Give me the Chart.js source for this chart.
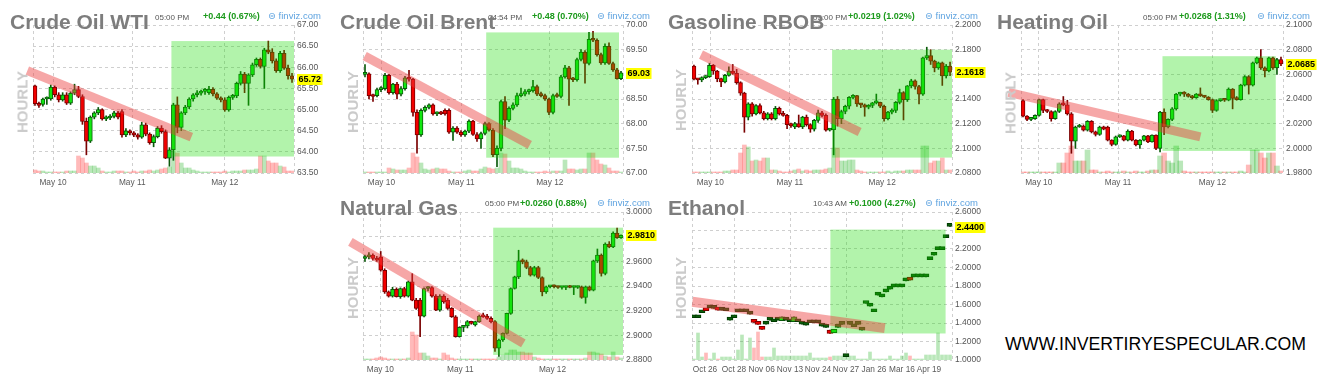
<!DOCTYPE html>
<html lang="en">
<head>
<meta charset="UTF-8">
<title>Energy futures - hourly</title>
<script src="https://cdn.jsdelivr.net/npm/chart.js"></script>
<style>
  body { margin: 0; background: #fff; }
  #wrap { position: relative; width: 1335px; height: 385px; overflow: hidden; font-family: 'Liberation Sans', Arial, sans-serif; }
  canvas { position: absolute; }
  .title { position: absolute; font-weight: bold; font-size: 21px; line-height: 21px; color: #7d7d7d; white-space: nowrap; }
  .time { position: absolute; font-size: 8px; line-height: 10px; color: #555; white-space: nowrap; }
  .chg { position: absolute; font-size: 9px; font-weight: bold; line-height: 10px; color: #1c9a1c; white-space: nowrap; }
  .fv { position: absolute; font-size: 9.5px; line-height: 10px; color: #5ea3e0; white-space: nowrap; font-family: 'Liberation Sans', 'DejaVu Sans', sans-serif; }
  .hourly { position: absolute; font-weight: bold; font-size: 15px; line-height: 15px; color: #cbcbcb; transform: translate(-50%, -50%) rotate(-90deg); white-space: nowrap; }
  #site { position: absolute; left: 1005px; top: 336px; font-size: 17.7px; line-height: 17.7px; color: #000; white-space: nowrap; }
</style>
</head>
<body>
<div id="wrap">
  <div class="time" style="left:155px;top:12.5px">05:00 PM</div>
  <div class="chg" style="left:203px;top:11px">+0.44 (0.67%)</div>
  <div class="fv" style="left:268px;top:11px">⊜ finviz.com</div>
  <div class="time" style="left:488px;top:12.5px">04:54 PM</div>
  <div class="chg" style="left:532px;top:11px">+0.48 (0.70%)</div>
  <div class="fv" style="left:597px;top:11px">⊜ finviz.com</div>
  <div class="time" style="left:813px;top:12.5px">05:00 PM</div>
  <div class="chg" style="left:848px;top:11px">+0.0219 (1.02%)</div>
  <div class="fv" style="left:925px;top:11px">⊜ finviz.com</div>
  <div class="time" style="left:1143px;top:12.5px">05:00 PM</div>
  <div class="chg" style="left:1179px;top:11px">+0.0268 (1.31%)</div>
  <div class="fv" style="left:1257px;top:11px">⊜ finviz.com</div>
  <div class="time" style="left:485px;top:199px">05:00 PM</div>
  <div class="chg" style="left:520px;top:198px">+0.0260 (0.88%)</div>
  <div class="fv" style="left:597px;top:198px">⊜ finviz.com</div>
  <div class="time" style="left:813px;top:199px">10:43 AM</div>
  <div class="chg" style="left:849px;top:198px">+0.1000 (4.27%)</div>
  <div class="fv" style="left:925px;top:198px">⊜ finviz.com</div>

  <div class="hourly" style="left:22px;top:102px">HOURLY</div>
  <div class="hourly" style="left:352px;top:102px">HOURLY</div>
  <div class="hourly" style="left:680px;top:100px">HOURLY</div>
  <div class="hourly" style="left:1010px;top:103px">HOURLY</div>
  <div class="hourly" style="left:352px;top:288px">HOURLY</div>
  <div class="hourly" style="left:680px;top:288px">HOURLY</div>

  <div id="site">WWW.INVERTIRYESPECULAR.COM</div>
</div>

<script>
// ---- data: [open, high, low, close] per bar, volume per bar ----
const mayDays = ['May 10', 'May 11', 'May 12'];

const wtiOHLC = [
  [65.56,65.58,65.10,65.14],[65.15,65.18,65.05,65.10],[65.12,65.27,65.08,65.25],[65.25,65.30,65.12,65.27],
  [65.25,65.58,65.22,65.53],[65.53,65.56,65.30,65.35],[65.35,65.40,65.18,65.23],[65.23,65.40,65.20,65.35],
  [65.35,65.40,65.12,65.15],[65.15,65.42,65.12,65.39],[65.39,65.60,65.35,65.47],[65.47,65.55,65.28,65.31],
  [65.31,65.35,64.65,64.72],[64.72,64.80,63.93,64.25],[64.25,64.85,64.22,64.82],[64.82,64.95,64.78,64.92],
  [64.92,65.05,64.88,65.00],[65.00,65.02,64.75,64.78],[64.78,64.85,64.74,64.80],[64.80,64.88,64.76,64.84],
  [64.84,64.96,64.80,64.92],[64.92,64.96,64.78,64.82],[64.95,65.00,64.35,64.40],[64.40,64.55,64.36,64.50],
  [64.50,64.52,64.40,64.45],[64.45,64.48,64.36,64.40],[64.40,64.43,64.30,64.35],[64.35,64.70,64.32,64.64],
  [64.64,64.68,64.38,64.42],[64.42,64.45,64.18,64.22],[64.22,64.40,64.12,64.36],[64.36,64.60,64.33,64.56],
  [64.56,64.62,64.44,64.48],[64.48,64.52,63.84,63.85],[63.85,64.10,63.66,64.05],[64.05,65.15,63.80,65.11],
  [65.11,65.30,64.45,64.58],[64.58,64.95,64.50,64.92],[64.92,65.10,64.88,65.06],[65.06,65.28,65.02,65.25],
  [65.25,65.38,65.20,65.35],[65.35,65.45,65.30,65.39],[65.39,65.46,65.34,65.43],[65.43,65.50,65.36,65.46],
  [65.40,65.55,65.36,65.48],[65.48,65.52,65.32,65.37],[65.37,65.40,65.24,65.27],[65.27,65.30,65.18,65.23],
  [65.23,65.28,64.96,64.99],[64.99,65.32,64.96,65.29],[65.29,65.36,65.24,65.32],[65.32,65.65,65.28,65.62],
  [65.62,65.90,65.58,65.84],[65.84,65.88,65.40,65.62],[65.62,65.85,65.10,65.82],[65.82,66.10,65.78,66.06],
  [66.06,66.22,66.02,66.19],[66.19,66.22,65.98,66.02],[66.02,66.45,65.50,66.41],[66.41,66.62,66.32,66.36],
  [66.36,66.44,66.10,66.15],[66.15,66.20,65.88,65.92],[65.92,66.38,65.88,66.33],[66.33,66.40,65.95,65.98],
  [65.98,66.05,65.72,65.80],[65.80,65.86,65.64,65.72]
];
const wtiVol = [3,2,2,1,1,1,1,1,2,2,2,17,15,10,7,7,5,2,1,1,2,2,2,1,1,2,1,2,2,3,2,3,4,5,6,22,20,10,5,5,3,2,1,1,1,1,1,1,2,1,2,2,2,3,3,3,4,17,17,12,10,10,7,6,2,2];
const wtiTicks = [63.5, 64.0, 64.5, 65.0, 65.5, 66.0, 66.5, 67.0];
const wtiDays = [4.56, 24.6, 48.0];
const wtiBox = [34.5, 65.5, 63.89, 66.62];
const wtiTrend = [[-1.93, 65.92], [39.55, 64.35]];
const wtiLast = 65.72;

const brentOHLC = [
  [69.00,69.20,68.95,69.01],[69.01,69.03,68.50,68.57],[68.57,68.60,68.45,68.55],[68.57,68.72,68.54,68.69],
  [68.69,68.75,68.65,68.71],[68.71,69.02,68.68,68.98],[68.98,69.00,68.60,68.63],[68.63,68.82,68.60,68.80],
  [68.80,68.84,68.50,68.60],[68.60,68.75,68.56,68.71],[68.71,68.96,68.68,68.93],[68.93,69.08,68.86,68.90],
  [68.90,68.92,68.15,68.23],[68.23,68.28,67.40,67.77],[67.77,68.30,67.74,68.27],[68.27,68.36,68.24,68.33],
  [68.33,68.40,68.30,68.38],[68.38,68.40,68.17,68.20],[68.20,68.24,68.16,68.21],[68.21,68.25,68.18,68.20],
  [68.27,68.30,68.17,68.20],[68.27,68.30,67.80,67.83],[67.83,67.94,67.66,67.91],[67.91,67.94,67.80,67.83],
  [67.83,67.86,67.74,67.77],[67.77,67.87,67.74,67.85],[67.85,68.08,67.82,68.05],[68.05,68.07,67.76,67.78],
  [67.78,67.82,67.64,67.69],[67.69,67.83,67.50,67.80],[67.80,68.03,67.77,68.00],[68.00,68.02,67.85,67.87],
  [67.87,67.90,67.33,67.37],[67.37,67.55,67.13,67.50],[67.50,68.48,67.45,68.45],[68.45,68.55,67.90,68.07],
  [68.07,68.34,68.04,68.31],[68.31,68.42,68.28,68.38],[68.38,68.62,68.35,68.57],[68.57,68.72,68.54,68.60],
  [68.60,68.69,68.56,68.65],[68.65,68.70,68.60,68.67],[68.67,68.88,68.64,68.75],[68.75,68.78,68.57,68.60],
  [68.60,68.64,68.54,68.57],[68.57,68.60,68.47,68.50],[68.50,68.52,68.18,68.23],[68.23,68.60,68.20,68.57],
  [68.57,68.62,68.53,68.55],[68.55,68.98,68.52,68.95],[68.95,69.18,68.92,69.13],[69.13,69.16,68.37,68.90],
  [68.90,68.94,68.85,68.89],[68.89,69.33,68.86,69.30],[69.30,69.50,69.27,69.45],[69.45,69.48,68.82,69.22],
  [69.22,69.85,69.19,69.71],[69.71,69.87,69.66,69.69],[69.69,69.72,69.37,69.40],[69.40,69.43,69.20,69.23],
  [69.23,69.62,69.20,69.57],[69.57,69.64,69.20,69.22],[69.22,69.25,69.06,69.09],[69.09,69.12,68.90,68.91],
  [68.91,69.06,68.89,69.03]
];
const brentVol = [1,1,1,1,1,1,5,4,3,3,3,5,20,16,10,4,3,4,5,4,4,2,1,1,1,2,3,2,2,4,6,5,4,5,20,19,12,5,5,4,2,1,1,1,1,2,1,2,2,2,13,4,4,3,4,4,20,20,13,9,8,5,2,2,1];
const brentTicks = [67.0, 67.5, 68.0, 68.5, 69.0, 69.5, 70.0];
const brentDays = [4.1, 24.1, 46.2];
const brentBox = [30.3, 63.5, 67.31, 69.85];
const brentTrend = [[-0.08, 69.37], [41.2, 67.57]];
const brentLast = 69.03;

const rbobOHLC = [
  [2.1667,2.1675,2.1555,2.1560],[2.1560,2.1565,2.1520,2.1555],[2.1555,2.1580,2.1540,2.1573],[2.1573,2.1590,2.1565,2.1581],
  [2.1581,2.1690,2.1575,2.1672],[2.1672,2.1680,2.1600,2.1627],[2.1627,2.1632,2.1540,2.1565],[2.1565,2.1570,2.1500,2.1539],
  [2.1539,2.1600,2.1530,2.1592],[2.1592,2.1660,2.1585,2.1627],[2.1627,2.1680,2.1600,2.1608],[2.1608,2.1640,2.1520,2.1533],
  [2.1533,2.1540,2.1430,2.1448],[2.1448,2.1455,2.1130,2.1253],[2.1253,2.1370,2.1230,2.1360],[2.1360,2.1370,2.1260,2.1280],
  [2.1280,2.1355,2.1270,2.1347],[2.1347,2.1360,2.1280,2.1288],[2.1288,2.1300,2.1230,2.1240],[2.1240,2.1290,2.1230,2.1280],
  [2.1280,2.1290,2.1230,2.1240],[2.1240,2.1340,2.1230,2.1325],[2.1325,2.1335,2.1270,2.1280],[2.1280,2.1300,2.1260,2.1267],
  [2.1267,2.1275,2.1160,2.1192],[2.1200,2.1205,2.1170,2.1181],[2.1173,2.1210,2.1160,2.1200],[2.1200,2.1270,2.1170,2.1173],
  [2.1173,2.1260,2.1160,2.1253],[2.1253,2.1270,2.1180,2.1192],[2.1192,2.1200,2.1130,2.1155],[2.1155,2.1235,2.1140,2.1227],
  [2.1227,2.1310,2.1210,2.1288],[2.1288,2.1300,2.1255,2.1267],[2.1267,2.1280,2.1140,2.1147],[2.1147,2.1160,2.1140,2.1152],
  [2.1152,2.1413,2.0947,2.1400],[2.1400,2.1420,2.1180,2.1240],[2.1240,2.1310,2.1200,2.1299],[2.1299,2.1350,2.1280,2.1341],
  [2.1341,2.1420,2.1320,2.1413],[2.1413,2.1435,2.1400,2.1427],[2.1427,2.1430,2.1340,2.1360],[2.1360,2.1365,2.1330,2.1352],
  [2.1352,2.1360,2.1260,2.1333],[2.1333,2.1355,2.1320,2.1347],[2.1347,2.1373,2.1330,2.1368],[2.1368,2.1440,2.1360,2.1373],
  [2.1373,2.1375,2.1330,2.1341],[2.1341,2.1350,2.1220,2.1240],[2.1240,2.1300,2.1230,2.1293],[2.1293,2.1320,2.1280,2.1307],
  [2.1307,2.1380,2.1290,2.1373],[2.1373,2.1480,2.1360,2.1453],[2.1453,2.1460,2.1230,2.1395],[2.1395,2.1510,2.1380,2.1507],
  [2.1507,2.1560,2.1490,2.1547],[2.1547,2.1555,2.1480,2.1501],[2.1501,2.1510,2.1360,2.1440],[2.1440,2.1740,2.1430,2.1733],
  [2.1733,2.1820,2.1720,2.1752],[2.1752,2.1800,2.1680,2.1707],[2.1707,2.1715,2.1620,2.1653],[2.1653,2.1700,2.1640,2.1693],
  [2.1693,2.1700,2.1510,2.1587],[2.1587,2.1680,2.1570,2.1667],[2.1667,2.1700,2.1590,2.1618]
];
const rbobVol = [1,1,1,1,1,1,1,1,2,2,3,3,20,28,26,12,13,12,15,15,3,3,2,1,1,2,3,4,2,3,2,3,3,3,4,5,25,25,12,12,13,13,3,2,1,1,1,1,1,1,2,1,2,2,2,3,3,3,3,27,27,10,12,12,15,3,3];
const rbobTicks = [2.08, 2.10, 2.12, 2.14, 2.16, 2.18, 2.20];
const rbobDays = [4.2, 24.7, 48.5];
const rbobBox = [35.6, 66.5, 2.0925, 2.18];
const rbobTrend = [[1.82, 2.176], [42.7, 2.1133]];
const rbobLast = 2.1618;

const hoOHLC = [
  [2.0387,2.0395,2.0255,2.0261],[2.0261,2.0265,2.0225,2.0235],[2.0235,2.0245,2.0225,2.0240],[2.0240,2.0272,2.0235,2.0267],
  [2.0267,2.0400,2.0260,2.0395],[2.0395,2.0400,2.0290,2.0307],[2.0307,2.0315,2.0290,2.0299],[2.0299,2.0305,2.0220,2.0240],
  [2.0240,2.0305,2.0235,2.0299],[2.0299,2.0370,2.0290,2.0360],[2.0360,2.0420,2.0345,2.0352],[2.0352,2.0390,2.0270,2.0280],
  [2.0280,2.0290,1.9960,2.0059],[2.0059,2.0180,2.0000,2.0173],[2.0173,2.0195,2.0170,2.0181],[2.0181,2.0190,2.0140,2.0147],
  [2.0147,2.0225,2.0140,2.0219],[2.0219,2.0225,2.0125,2.0133],[2.0133,2.0140,2.0100,2.0112],[2.0112,2.0180,2.0105,2.0173],
  [2.0175,2.0180,2.0150,2.0155],[2.0173,2.0180,2.0060,2.0067],[2.0067,2.0070,2.0020,2.0032],[2.0032,2.0100,2.0025,2.0093],
  [2.0093,2.0110,2.0088,2.0107],[2.0101,2.0105,2.0060,2.0067],[2.0067,2.0150,2.0060,2.0139],[2.0139,2.0145,2.0060,2.0067],
  [2.0067,2.0070,2.0020,2.0027],[2.0027,2.0070,2.0000,2.0067],[2.0067,2.0105,2.0060,2.0101],[2.0101,2.0105,2.0045,2.0053],
  [2.0053,2.0110,2.0050,2.0107],[2.0107,2.0110,1.9990,2.0000],[2.0000,2.0300,1.9970,2.0293],[2.0293,2.0320,2.0110,2.0173],
  [2.0173,2.0240,2.0165,2.0235],[2.0235,2.0330,2.0225,2.0320],[2.0320,2.0445,2.0310,2.0440],[2.0440,2.0455,2.0425,2.0445],
  [2.0445,2.0460,2.0420,2.0440],[2.0440,2.0445,2.0415,2.0421],[2.0421,2.0430,2.0400,2.0410],[2.0410,2.0445,2.0405,2.0440],
  [2.0440,2.0490,2.0420,2.0425],[2.0425,2.0430,2.0410,2.0415],[2.0415,2.0420,2.0390,2.0395],[2.0395,2.0400,2.0290,2.0307],
  [2.0307,2.0395,2.0300,2.0387],[2.0387,2.0400,2.0380,2.0395],[2.0395,2.0400,2.0380,2.0390],[2.0390,2.0490,2.0385,2.0480],
  [2.0480,2.0485,2.0320,2.0405],[2.0405,2.0420,2.0390,2.0395],[2.0395,2.0520,2.0390,2.0512],[2.0512,2.0590,2.0505,2.0581],
  [2.0581,2.0590,2.0440,2.0512],[2.0512,2.0700,2.0505,2.0693],[2.0693,2.0740,2.0685,2.0733],[2.0733,2.0800,2.0640,2.0653],
  [2.0653,2.0660,2.0580,2.0627],[2.0627,2.0740,2.0620,2.0733],[2.0733,2.0740,2.0640,2.0653],[2.0653,2.0730,2.0600,2.0720],
  [2.0720,2.0740,2.0670,2.0685]
];
const hoVol = [1,1,1,1,1,1,1,1,1,10,10,20,27,12,12,12,23,3,3,1,1,2,1,1,1,2,1,1,2,1,1,2,3,3,17,20,12,10,27,12,2,1,1,1,1,1,1,1,1,1,1,1,1,1,2,1,8,23,23,20,15,20,20,7,2];
const hoTicks = [1.98, 2.00, 2.02, 2.04, 2.06, 2.08, 2.10];
const hoDays = [3.9, 23.6, 47.0];
const hoBox = [34.6, 62.7, 1.9979, 2.0747];
const hoTrend = [[-3.6, 2.0453], [44.0, 2.0093]];
const hoLast = 2.0685;

const ngOHLC = [
  [2.9623,2.9650,2.9600,2.9636],[2.9636,2.9670,2.9620,2.9650],[2.9650,2.9660,2.9610,2.9623],[2.9623,2.9640,2.9600,2.9609],
  [2.9636,2.9680,2.9520,2.9528],[2.9528,2.9540,2.9340,2.9353],[2.9353,2.9360,2.9310,2.9318],[2.9318,2.9390,2.9310,2.9372],
  [2.9372,2.9385,2.9310,2.9313],[2.9313,2.9385,2.9300,2.9380],[2.9380,2.9390,2.9310,2.9318],[2.9318,2.9440,2.9310,2.9434],
  [2.9434,2.9500,2.9280,2.9286],[2.9286,2.9300,2.9210,2.9218],[2.9286,2.9300,2.8990,2.9156],[2.9156,2.9385,2.9150,2.9380],
  [2.9380,2.9395,2.9360,2.9388],[2.9388,2.9395,2.9310,2.9318],[2.9318,2.9330,2.9200,2.9205],[2.9205,2.9330,2.9195,2.9318],
  [2.9318,2.9330,2.9260,2.9272],[2.9286,2.9300,2.9210,2.9218],[2.9218,2.9225,2.9145,2.9151],[2.9151,2.9160,2.8985,2.8989],
  [2.8989,2.9070,2.8985,2.9065],[2.9065,2.9080,2.9030,2.9076],[2.9076,2.9120,2.9060,2.9111],[2.9111,2.9115,2.9090,2.9097],
  [2.9084,2.9115,2.9075,2.9111],[2.9111,2.9165,2.9105,2.9156],[2.9156,2.9180,2.9145,2.9151],[2.9156,2.9170,2.9130,2.9138],
  [2.9138,2.9150,2.9100,2.9111],[2.9111,2.9120,2.8870,2.8895],[2.8895,2.8970,2.8830,2.8962],[2.8962,2.9020,2.8950,2.9016],
  [2.9016,2.9180,2.9010,2.9178],[2.9178,2.9385,2.9170,2.9380],[2.9380,2.9480,2.9375,2.9474],[2.9474,2.9690,2.9460,2.9604],
  [2.9604,2.9620,2.9580,2.9596],[2.9596,2.9610,2.9540,2.9550],[2.9550,2.9560,2.9480,2.9488],[2.9488,2.9560,2.9480,2.9550],
  [2.9550,2.9560,2.9460,2.9469],[2.9469,2.9475,2.9320,2.9353],[2.9353,2.9400,2.9340,2.9394],[2.9394,2.9400,2.9385,2.9399],
  [2.9399,2.9410,2.9385,2.9394],[2.9394,2.9400,2.9380,2.9388],[2.9388,2.9398,2.9375,2.9392],[2.9388,2.9400,2.9370,2.9399],
  [2.9399,2.9405,2.9385,2.9388],[2.9388,2.9400,2.9330,2.9388],[2.9388,2.9400,2.9380,2.9394],[2.9394,2.9400,2.9300,2.9307],
  [2.9307,2.9400,2.9260,2.9394],[2.9394,2.9400,2.9360,2.9367],[2.9367,2.9610,2.9360,2.9604],[2.9604,2.9700,2.9590,2.9650],
  [2.9650,2.9660,2.9480,2.9501],[2.9501,2.9750,2.9490,2.9739],[2.9739,2.9760,2.9710,2.9717],[2.9717,2.9840,2.9710,2.9830],
  [2.9830,2.9870,2.9785,2.9792],[2.9792,2.9815,2.9785,2.9810]
];
const ngVol = [1,1,1,2,3,2,1,1,1,1,1,2,28,25,7,7,4,2,2,1,7,5,2,1,1,1,1,1,1,1,1,1,1,1,3,5,7,10,10,8,8,7,7,3,2,1,1,1,1,1,1,1,1,1,1,1,2,8,8,7,6,4,3,8,3,2];
const ngTicks = [2.88, 2.90, 2.92, 2.94, 2.96, 2.98, 3.00];
const ngDays = [3.9, 24.2, 47.6];
const ngBox = [32.55, 65.5, 2.8841, 2.9873];
const ngTrend = [[-3.7, 2.9757], [40.2, 2.8935]];
const ngLast = 2.9810;

const ethOHLC = [
  [1.4566,1.4566,1.4566,1.4566],[1.4566,1.4566,1.4566,1.4566],[1.5106,1.5106,1.5106,1.5106],[1.5573,1.5573,1.5322,1.5322],
  [1.5645,1.5645,1.5645,1.5645],[1.5573,1.5573,1.5573,1.5573],[1.5573,1.5573,1.5393,1.5393],[1.5393,1.5393,1.5393,1.5393],
  [1.5322,1.5322,1.5322,1.5322],[1.4315,1.4315,1.4315,1.4315],[1.4566,1.4566,1.4566,1.4566],[1.5214,1.5214,1.5214,1.5214],
  [1.5214,1.5214,1.5214,1.5214],[1.5214,1.5214,1.5214,1.5214],[1.4962,1.4962,1.4962,1.4962],[1.4243,1.4243,1.4063,1.4063],
  [1.4027,1.4027,1.3847,1.3847],[1.3524,1.3524,1.3308,1.3308],[1.3883,1.3883,1.3883,1.3883],[1.4315,1.4315,1.4315,1.4315],
  [1.4135,1.4135,1.4135,1.4135],[1.4315,1.4315,1.4315,1.4315],[1.4243,1.4674,1.4243,1.4674],[1.4315,1.4315,1.4315,1.4315],
  [1.4135,1.4135,1.4135,1.4135],[1.4135,1.4674,1.4135,1.4674],[1.4135,1.4135,1.4135,1.4135],[1.3883,1.3883,1.3883,1.3883],
  [1.3775,1.3775,1.3775,1.3775],[1.4027,1.4027,1.4027,1.4027],[1.4027,1.4027,1.4027,1.4027],[1.4027,1.4027,1.4027,1.4027],
  [1.3667,1.3667,1.3667,1.3667],[1.3524,1.3524,1.3524,1.3524],[1.3236,1.3236,1.2876,1.2876],[1.2948,1.3308,1.2948,1.3308],
  [1.3524,1.3524,1.3524,1.3524],[1.3847,1.3847,1.3847,1.3847],[1.0360,1.0360,1.0360,1.0360],[1.3847,1.3847,1.3847,1.3847],
  [1.3595,1.3595,1.3595,1.3595],[1.3847,1.3847,1.3847,1.3847],[1.3236,1.3236,1.3236,1.3236],[1.6112,1.6112,1.6112,1.6112],
  [1.5825,1.5825,1.5825,1.5825],[1.5214,1.5214,1.5214,1.5214],[1.7011,1.7011,1.7011,1.7011],[1.6831,1.6831,1.6831,1.6831],
  [1.7371,1.7371,1.7371,1.7371],[1.7659,1.7659,1.7659,1.7659],[1.7910,1.7910,1.7910,1.7910],[1.7910,1.7910,1.7910,1.7910],
  [1.7910,1.7910,1.7910,1.7910],[1.8557,1.8557,1.8557,1.8557],[1.8809,1.8809,1.8629,1.8629],[1.8989,1.8989,1.8989,1.8989],
  [1.8989,1.8989,1.8989,1.8989],[1.8989,1.8989,1.8989,1.8989],[1.8989,1.8989,1.8989,1.8989],[2.0858,2.0858,2.0858,2.0858],
  [2.1326,2.1326,2.1326,2.1326],[2.1937,2.1937,2.1937,2.1937],[2.1937,2.1937,2.1937,2.1937],[2.3232,2.3232,2.3232,2.3232],
  [2.4454,2.4454,2.4454,2.4454]
];
const ethVol = [1,27,3,7,1,7,1,3,3,3,1,10,25,1,22,12,28,3,3,3,12,4,4,4,4,4,4,4,4,7,2,2,2,2,3,4,4,4,4,4,4,1,1,1,8,1,1,1,1,4,1,1,4,7,4,1,1,1,5,5,5,27,5,5,5];
const ethTicks = [1.0, 1.2, 1.4, 1.6, 1.8, 2.0, 2.2, 2.4, 2.6];
const ethDays = [2.75, 10, 16.9, 24, 31, 38, 45, 52, 58.75];
const ethDayLabels = ['Oct 26', 'Oct 28', 'Nov 06', 'Nov 13', 'Nov 24', 'Nov 27', 'Jan 26', 'Mar 16', 'Apr 19'];
const ethGridDays = [10, 24, 38, 52];
const ethBox = [34.1, 62.9, 1.2867, 2.41];
const ethTrend = [[-0.4, 1.63], [47.7, 1.345]];
const ethLast = 2.4400;

// ---- layout of the six panels ----
const panels = [
  {left: 0,   top: 0,   w: 330, h: 190, l: 33, t: 25, r: 294, b: 173, ohlc: wtiOHLC, vol: wtiVol, ticks: wtiTicks, days: wtiDays, dayLabels: mayDays, box: wtiBox, trend: wtiTrend, last: wtiLast, dec: 2, title: 'Crude Oil WTI', tx: 10},
  {left: 330, top: 0,   w: 330, h: 190, l: 33, t: 25, r: 293, b: 173, ohlc: brentOHLC, vol: brentVol, ticks: brentTicks, days: brentDays, dayLabels: mayDays, box: brentBox, trend: brentTrend, last: brentLast, dec: 2, title: 'Crude Oil Brent', tx: 10},
  {left: 660, top: 0,   w: 330, h: 190, l: 32, t: 25, r: 292, b: 173, ohlc: rbobOHLC, vol: rbobVol, ticks: rbobTicks, days: rbobDays, dayLabels: mayDays, box: rbobBox, trend: rbobTrend, last: rbobLast, dec: 4, title: 'Gasoline RBOB', tx: 8},
  {left: 990, top: 0,   w: 345, h: 190, l: 31, t: 25, r: 293, b: 173, ohlc: hoOHLC, vol: hoVol, ticks: hoTicks, days: hoDays, dayLabels: mayDays, box: hoBox, trend: hoTrend, last: hoLast, dec: 4, title: 'Heating Oil', tx: 7},
  {left: 330, top: 190, w: 330, h: 190, l: 33, t: 22, r: 293, b: 170, ohlc: ngOHLC, vol: ngVol, ticks: ngTicks, days: ngDays, dayLabels: mayDays, box: ngBox, trend: ngTrend, last: ngLast, dec: 4, title: 'Natural Gas', tx: 10},
  {left: 660, top: 190, w: 330, h: 190, l: 32, t: 22, r: 292, b: 170, ohlc: ethOHLC, vol: ethVol, ticks: ethTicks, days: ethDays, dayLabels: ethDayLabels, gridDays: ethGridDays, box: ethBox, trend: ethTrend, last: ethLast, dec: 4, title: 'Ethanol', tx: 8, dashes: true}
];

const FONT = "'Liberation Sans', Arial, sans-serif";
const wrap = document.getElementById('wrap');

function drawPanel(p) {
  const cv = document.createElement('canvas');
  cv.width = p.w;
  cv.height = p.h;
  cv.style.left = p.left + 'px';
  cv.style.top = p.top + 'px';
  wrap.insertBefore(cv, wrap.firstChild);

  const n = p.ohlc.length;
  const slot = (p.r - p.l) / n;
  const up = p.ohlc.map(r => r[3] >= r[0]);
  const flat = p.ohlc.map(r => r[3] === r[0]);
  const fill = p.ohlc.map((r, i) => (p.dashes && flat[i]) ? '#0b5e0b' : (r[3] >= r[0] ? '#12e812' : '#f20000'));
  const edge = p.ohlc.map((r, i) => (p.dashes && flat[i]) ? '#003a00' : (r[3] >= r[0] ? '#0a5a0a' : '#7a0000'));
  const labels = new Map(p.days.map((d, i) => [d, p.dayLabels[i]]));
  const gridAt = new Set([-0.5, n - 0.5, ...(p.gridDays || p.days)]);

  new Chart(cv, {
    type: 'bar',
    data: {
      datasets: [
        {
          data: p.vol.map((v, i) => ({x: i, y: v})),
          yAxisID: 'yv',
          backgroundColor: up.map(u => u ? 'rgba(40,180,40,0.32)' : 'rgba(255,90,90,0.42)'),
          barThickness: p.dashes ? 3 : Math.ceil(slot),
          grouped: false,
          order: 3
        },
        {
          data: p.ohlc.map((r, i) => ({x: i, y: [r[2], r[1]]})),
          backgroundColor: edge,
          barThickness: 1,
          grouped: false,
          order: 2
        },
        {
          data: p.ohlc.map((r, i) => ({x: i, y: [r[0], r[3]]})),
          backgroundColor: fill,
          borderColor: edge,
          borderWidth: 1,
          borderSkipped: false,
          barThickness: p.dashes ? 6 : 4,
          minBarLength: p.dashes ? 3 : 2,
          grouped: false,
          order: 1
        }
      ]
    },
    options: {
      responsive: false,
      animation: false,
      events: [],
      layout: {padding: {left: p.l, top: p.t, right: 0, bottom: 0}},
      plugins: {legend: {display: false}, tooltip: {enabled: false}},
      scales: {
        x: {
          type: 'linear',
          min: -0.5,
          max: n - 0.5,
          offset: false,
          afterBuildTicks: s => { s.ticks = [-0.5, ...p.days, n - 0.5].map(v => ({value: v})); },
          afterFit: s => { s.height = p.h - p.b; },
          ticks: {
            autoSkip: false, maxRotation: 0, padding: 5,
            color: '#5a5a5a', font: {family: FONT, size: 8.3},
            callback: v => labels.get(v) || ''
          },
          grid: {
            color: c => (c.tick && gridAt.has(c.tick.value)) ? '#cfcfcf' : 'rgba(0,0,0,0)',
            drawTicks: false, offset: false
          },
          border: {display: false, dash: [3, 3]}
        },
        y: {
          position: 'right',
          min: p.ticks[0],
          max: p.ticks[p.ticks.length - 1],
          beginAtZero: false,
          afterBuildTicks: s => { s.ticks = p.ticks.map(v => ({value: v})); },
          afterFit: s => { s.width = p.w - p.r; },
          ticks: {
            padding: 3, color: '#555', font: {family: FONT, size: 8.5},
            callback: v => v.toFixed(p.dec)
          },
          grid: {color: '#cfcfcf', drawTicks: false},
          border: {display: false, dash: [3, 3]}
        },
        yv: {display: false, min: 0, max: p.b - p.t}
      }
    },
    plugins: [{
      id: 'marks',
      afterDatasetsDraw(chart) {
        const {ctx, scales: {x, y}} = chart;
        ctx.save();
        // green highlight box
        const x0 = x.getPixelForValue(p.box[0]), x1 = x.getPixelForValue(p.box[1]);
        const y0 = y.getPixelForValue(p.box[3]), y1 = y.getPixelForValue(p.box[2]);
        ctx.fillStyle = 'rgba(20,220,0,0.33)';
        ctx.fillRect(x0, y0, x1 - x0, y1 - y0);
        // falling trend band
        ctx.strokeStyle = 'rgba(235,60,60,0.45)';
        ctx.lineWidth = p.dashes ? 10 : 9;
        ctx.lineCap = 'butt';
        ctx.beginPath();
        ctx.moveTo(x.getPixelForValue(p.trend[0][0]), y.getPixelForValue(p.trend[0][1]));
        ctx.lineTo(x.getPixelForValue(p.trend[1][0]), y.getPixelForValue(p.trend[1][1]));
        ctx.stroke();
        ctx.restore();
      },
      afterDraw(chart) {
        const {ctx, chartArea: a, scales: {y}} = chart;
        const yy = y.getPixelForValue(p.last);
        const txt = p.last.toFixed(p.dec);
        ctx.save();
        ctx.font = 'bold 9px ' + FONT;
        const tw = ctx.measureText(txt).width;
        ctx.fillStyle = '#ffff00';
        ctx.fillRect(a.right + 3, Math.round(yy) - 5, tw + 3, 11);
        ctx.fillStyle = '#000';
        ctx.textBaseline = 'middle';
        ctx.fillText(txt, a.right + 4.5, Math.round(yy) + 0.5);
        ctx.restore();
      }
    }]
  });

  const t = document.createElement('div');
  t.className = 'title';
  t.textContent = p.title;
  t.style.left = (p.left + p.tx) + 'px';
  t.style.top = (p.top === 0 ? 11 : 197) + 'px';
  wrap.appendChild(t);
}

panels.forEach(drawPanel);
</script>
</body>
</html>
